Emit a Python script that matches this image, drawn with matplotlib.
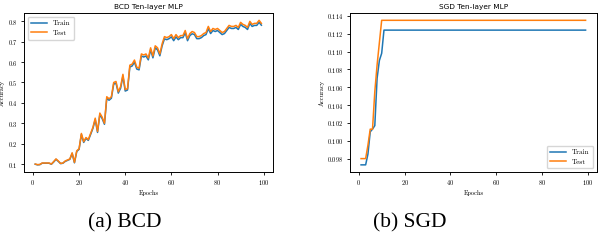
import numpy as np
import matplotlib.pyplot as plt

plt.rcParams['font.family'] = 'cmr10'
plt.rcParams['axes.formatter.use_mathtext'] = True

epochs = np.arange(1, 100)

# BCD accuracy per epoch
bcd_test = [0.100, 0.097, 0.098, 0.105, 0.105, 0.105, 0.105, 0.100, 0.112, 0.125,
            0.115, 0.103, 0.105, 0.115, 0.120, 0.125, 0.155, 0.108, 0.165, 0.175,
            0.250, 0.210, 0.230, 0.220, 0.250, 0.280, 0.325, 0.260, 0.350, 0.330,
            0.300, 0.430, 0.420, 0.430, 0.500, 0.505, 0.455, 0.480, 0.540, 0.465,
            0.470, 0.585, 0.590, 0.610, 0.575, 0.570, 0.640, 0.635, 0.640, 0.620,
            0.670, 0.630, 0.680, 0.670, 0.640, 0.690, 0.725, 0.720, 0.725, 0.735,
            0.715, 0.735, 0.720, 0.730, 0.730, 0.755, 0.715, 0.740, 0.750, 0.745,
            0.725, 0.725, 0.730, 0.740, 0.745, 0.775, 0.750, 0.765, 0.760, 0.765,
            0.755, 0.745, 0.750, 0.765, 0.780, 0.775, 0.775, 0.780, 0.770, 0.795,
            0.785, 0.780, 0.770, 0.800, 0.785, 0.790, 0.790, 0.805, 0.790]
bcd_train = [0.099, 0.096, 0.097, 0.104, 0.104, 0.104, 0.104, 0.099, 0.110, 0.123,
             0.113, 0.102, 0.104, 0.113, 0.118, 0.123, 0.152, 0.106, 0.162, 0.172,
             0.245, 0.206, 0.226, 0.216, 0.245, 0.275, 0.318, 0.255, 0.343, 0.323,
             0.295, 0.422, 0.413, 0.423, 0.492, 0.497, 0.448, 0.472, 0.531, 0.458,
             0.463, 0.576, 0.581, 0.600, 0.566, 0.562, 0.630, 0.625, 0.630, 0.611,
             0.660, 0.621, 0.670, 0.660, 0.631, 0.680, 0.714, 0.710, 0.715, 0.724,
             0.705, 0.724, 0.710, 0.720, 0.720, 0.744, 0.705, 0.730, 0.739, 0.735,
             0.715, 0.715, 0.720, 0.730, 0.735, 0.764, 0.740, 0.755, 0.750, 0.755,
             0.745, 0.735, 0.740, 0.755, 0.770, 0.765, 0.765, 0.770, 0.760, 0.785,
             0.775, 0.770, 0.760, 0.790, 0.775, 0.780, 0.780, 0.795, 0.781]

# SGD accuracy per epoch
sgd_train = [0.0973, 0.0973, 0.0973, 0.0985, 0.1010, 0.1013, 0.1017, 0.1070, 0.1090, 0.1098,
             0.1124] + [0.1124] * 88
sgd_test = [0.0980, 0.0980, 0.0980, 0.0995, 0.1013, 0.1013, 0.1055, 0.1085, 0.1110, 0.1135] \
           + [0.1135] * 89

blue = '#1f77b4'
orange = '#ff7f0e'

fig = plt.figure(figsize=(5.98, 2.4), dpi=100)
ax1 = fig.add_axes([0.040, 0.283, 0.416, 0.6625])
ax2 = fig.add_axes([0.585, 0.283, 0.413, 0.6625])

fs = 4.6
for ax, tr, te, title, loc in [(ax1, bcd_train, bcd_test, 'BCD Ten-layer MLP', 'upper left'),
                               (ax2, sgd_train, sgd_test, 'SGD Ten-layer MLP', 'lower right')]:
    ax.plot(epochs, tr, color=blue, lw=1.1, label='Train')
    ax.plot(epochs, te, color=orange, lw=1.1, label='Test')
    ax.set_title(title, fontsize=5.3, family='DejaVu Sans', pad=3)
    ax.set_xlabel('Epochs', fontsize=fs, labelpad=2)
    ax.set_ylabel('Accuracy', fontsize=fs, labelpad=2)
    ax.tick_params(labelsize=fs, length=2.5, width=0.6, pad=2)
    for s in ax.spines.values():
        s.set_linewidth(0.7)
    ax.set_xticks([0, 20, 40, 60, 80, 100])
    ax.legend(loc=loc, fontsize=fs + 0.6, handlelength=2.2, borderpad=0.5,
              labelspacing=0.5, framealpha=0.8, edgecolor='#cccccc')

ax1.set_yticks([0.1, 0.2, 0.3, 0.4, 0.5, 0.6, 0.7, 0.8])
ax2.set_yticks(np.arange(0.098, 0.1141, 0.002))

fig.text(125 / 598, 1 - 227 / 240, '(a) BCD', ha='center', va='baseline',
         fontsize=15.5, family='Liberation Serif')
fig.text(410 / 598, 1 - 227 / 240, '(b) SGD', ha='center', va='baseline',
         fontsize=15.5, family='Liberation Serif')

fig.savefig('out.png', dpi=100)
